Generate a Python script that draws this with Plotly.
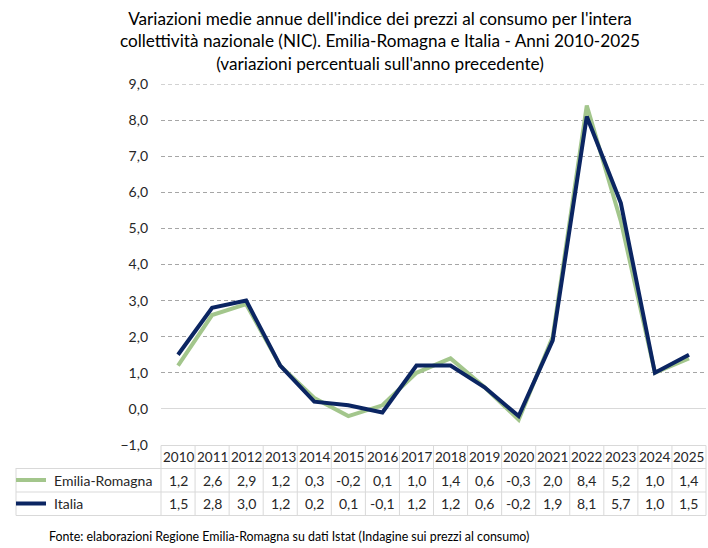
import plotly.graph_objects as go

years = [str(y) for y in range(2010, 2026)]
emilia = [1.2, 2.6, 2.9, 1.2, 0.3, -0.2, 0.1, 1.0, 1.4, 0.6, -0.3, 2.0, 8.4, 5.2, 1.0, 1.4]
italia = [1.5, 2.8, 3.0, 1.2, 0.2, 0.1, -0.1, 1.2, 1.2, 0.6, -0.2, 1.9, 8.1, 5.7, 1.0, 1.5]
series_names = ["Emilia-Romagna", "Italia"]
series_values = [emilia, italia]
series_colors = ["#a3c68c", "#0b2562"]

title_text = ("Variazioni medie annue dell'indice dei prezzi al consumo per l'intera<br>"
              "collettività nazionale (NIC). Emilia-Romagna e Italia - Anni 2010-2025<br>"
              "(variazioni percentuali sull'anno precedente)")
source_text = "Fonte: elaborazioni Regione Emilia-Romagna su dati Istat (Indagine sui prezzi al consumo)"

FONT = "Lato"
W, H = 708, 548
ML, MR, MT, MB = 161, 2, 84, 103
plot_w = W - ML - MR
plot_h = H - MT - MB
GRID = "#d9d9d9"

fig = go.Figure()
for name, vals, col in zip(series_names, series_values, series_colors):
    fig.add_trace(go.Scatter(x=years, y=vals, name=name, mode="lines",
                             line=dict(color=col, width=4), showlegend=False))

def py(pix):
    # pixel y (from top) to paper coordinate
    return (H - MB - pix) / plot_h

def px(pix):
    return (pix - ML) / plot_w

n = len(years)
shapes = []
# top gridline at 9
shapes.append(dict(type="line", xref="paper", yref="y", x0=0, x1=1, y0=9, y1=9,
                   line=dict(color="#a6a6a6", width=1, dash="4px,3px"), layer="below"))
# table vertical lines at category boundaries
for k in range(n + 1):
    xf = k / n
    shapes.append(dict(type="line", xref="paper", yref="paper", x0=xf, x1=xf,
                       y0=py(445.5), y1=py(515.5), line=dict(color=GRID, width=1)))
# left column vertical line
shapes.append(dict(type="line", xref="paper", yref="paper", x0=px(16), x1=px(16),
                   y0=py(468), y1=py(515.5), line=dict(color=GRID, width=1)))
# horizontal lines
shapes.append(dict(type="line", xref="paper", yref="paper", x0=0, x1=1,
                   y0=py(445.5), y1=py(445.5), line=dict(color=GRID, width=1)))
for yy in [468.5, 492, 515.5]:
    shapes.append(dict(type="line", xref="paper", yref="paper", x0=px(16), x1=1,
                       y0=py(yy), y1=py(yy), line=dict(color=GRID, width=1)))
# legend keys
row_y = [480, 503.5]
for col, ry in zip(series_colors, row_y):
    shapes.append(dict(type="line", xref="paper", yref="paper", x0=px(16), x1=px(46),
                       y0=py(ry), y1=py(ry), line=dict(color=col, width=4)))

annotations = []
# header years
for i, yv in enumerate(years):
    annotations.append(dict(x=i, y=py(457), xref="x", yref="paper", text=yv,
                            showarrow=False, xanchor="center", yanchor="middle",
                            font=dict(family=FONT, size=13.5, color="#262626")))
# values
for name, vals, ry in zip(series_names, series_values, row_y):
    annotations.append(dict(x=px(52), y=py(ry), xref="paper", yref="paper", text=name,
                            showarrow=False, xanchor="left", yanchor="middle",
                            font=dict(family=FONT, size=14, color="#262626")))
    for i, v in enumerate(vals):
        annotations.append(dict(x=i, y=py(ry), xref="x", yref="paper",
                                text=f"{v:.1f}".replace(".", ","),
                                showarrow=False, xanchor="center", yanchor="middle",
                                font=dict(family=FONT, size=14, color="#262626")))
# source
annotations.append(dict(x=px(47), y=py(536), xref="paper", yref="paper",
                        text=source_text, showarrow=False, xanchor="left", yanchor="middle",
                        font=dict(family=FONT, size=12.4, color="#000000")))

fig.update_layout(
    width=W, height=H,
    margin=dict(l=ML, r=MR, t=MT, b=MB),
    paper_bgcolor="white", plot_bgcolor="white",
    separators=",.",
    font=dict(family=FONT, color="#262626"),
    title=dict(text=title_text, x=380 / W, xanchor="center", y=1 - 25 / H, yanchor="middle",
               xref="container", yref="container",
               font=dict(family=FONT, size=17.2, color="#000000")),
    xaxis=dict(type="category", range=[-0.5, n - 0.5], showgrid=False, showline=False,
               showticklabels=False, zeroline=False, fixedrange=True),
    yaxis=dict(range=[-1, 9], dtick=1, tick0=0, tickformat=".1f",
               showgrid=True, gridcolor="#a6a6a6", griddash="4px,3px", gridwidth=1,
               zeroline=True, zerolinecolor=GRID, zerolinewidth=1,
               showline=False, ticks="", ticklabelstandoff=12,
               tickfont=dict(family=FONT, size=14, color="#262626"), fixedrange=True),
    shapes=shapes, annotations=annotations,
)

fig.write_html("out.html")
